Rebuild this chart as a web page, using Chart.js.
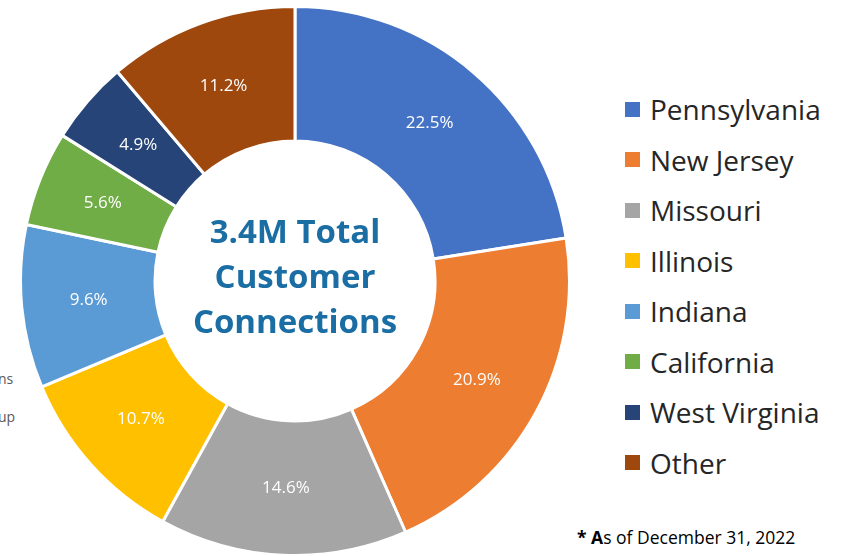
<!DOCTYPE html>
<html>
<head>
<meta charset="utf-8">
<script src="https://cdn.jsdelivr.net/npm/chart.js@4"></script>
<style>
  body { margin: 0; background: #fff; font-family: "Open Sans", sans-serif; }
  #wrap { position: relative; width: 844px; height: 556px; overflow: hidden; }
  #pie { position: absolute; left: 19px; top: 5px; }
  #legend { position: absolute; left: 625px; top: 84px; }
  .item { height: 50.5px; display: flex; align-items: center; font-size: 28px; color: #262626; }
  .box { width: 15px; height: 15px; margin-right: 10px; }
  .side { position: absolute; left: -2px; font-size: 14px; color: #595959; }
  #note { position: absolute; left: 577px; top: 525px; font-size: 17.5px; color: #000; }
</style>
</head>
<body>
<div id="wrap">
  <canvas id="pie" width="552" height="552"></canvas>
  <div id="legend"></div>
  <div class="side" style="top:369px">ns</div>
  <div class="side" style="top:407px">up</div>
  <div id="note"><b>* A</b>s of December 31, 2022</div>
</div>
<script>
const states = ["Pennsylvania", "New Jersey", "Missouri", "Illinois", "Indiana", "California", "West Virginia", "Other"];
const shares = [22.5, 20.9, 14.6, 10.7, 9.6, 5.6, 4.9, 11.2];
const colors = ["#4472C4", "#ED7D31", "#A5A5A5", "#FFC000", "#5B9BD5", "#70AD47", "#264478", "#9E480E"];
const centerLines = ["3.4M Total", "Customer", "Connections"];

// legend on the right
const legend = document.getElementById("legend");
states.forEach((s, i) => {
    const row = document.createElement("div");
    row.className = "item";
    row.innerHTML = '<span class="box" style="background:' + colors[i] + '"></span>' + s;
    legend.appendChild(row);
});

// percent labels + center title
const labelPlugin = {
    id: "labels",
    afterDatasetsDraw(chart) {
        const ctx = chart.ctx;
        const meta = chart.getDatasetMeta(0);
        ctx.save();
        ctx.fillStyle = "#fff";
        ctx.font = "17px 'Open Sans', sans-serif";
        ctx.textAlign = "center";
        ctx.textBaseline = "middle";
        meta.data.forEach((arc, i) => {
            const p = arc.getCenterPoint();
            ctx.fillText(shares[i].toFixed(1) + "%", p.x, p.y);
        });
        const c = meta.data[0];
        ctx.fillStyle = "#1B6EA3";
        ctx.font = "bold 33px 'Open Sans', sans-serif";
        centerLines.forEach((t, i) => {
            ctx.fillText(t, c.x, c.y - 47 + i * 45);
        });
        ctx.restore();
    }
};

new Chart(document.getElementById("pie"), {
    type: "doughnut",
    data: {
        labels: states,
        datasets: [{
            data: shares,
            backgroundColor: colors,
            borderColor: "#fff",
            borderWidth: 3
        }]
    },
    options: {
        responsive: false,
        animation: false,
        cutout: "51%",
        plugins: { legend: { display: false }, tooltip: { enabled: false } }
    },
    plugins: [labelPlugin]
});
</script>
</body>
</html>
